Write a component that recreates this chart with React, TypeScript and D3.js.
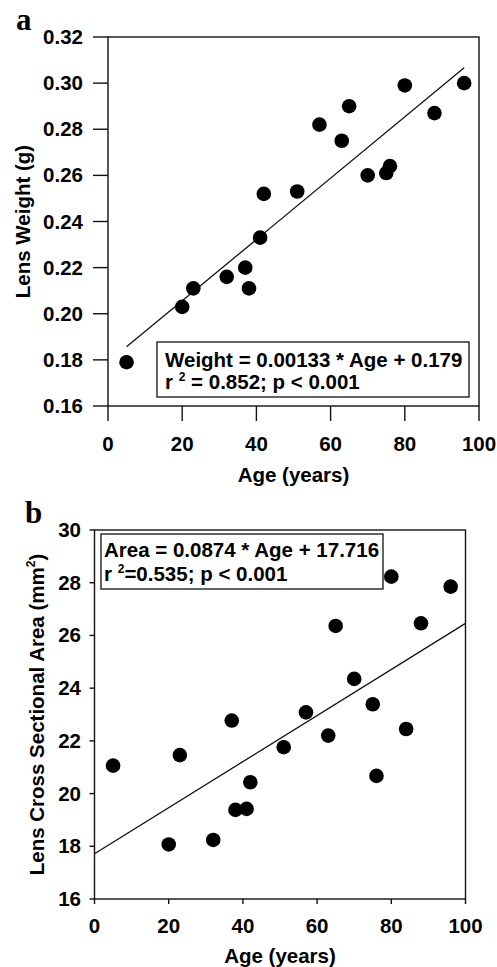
import React from "react";
import * as d3 from "d3";

// Panel a data
const ageA = [5, 20, 23, 32, 37, 38, 41, 42, 51, 57, 63, 65, 70, 75, 76, 80, 88, 96];
const weight = [0.179, 0.203, 0.211, 0.216, 0.22, 0.211, 0.233, 0.252, 0.253, 0.282, 0.275, 0.29, 0.26, 0.261, 0.264, 0.299, 0.287, 0.3];
const slopeA = 0.00133;
const interceptA = 0.179;
const yTicksA = [0.16, 0.18, 0.2, 0.22, 0.24, 0.26, 0.28, 0.3, 0.32];

// Panel b data
const ageB = [5, 20, 23, 32, 37, 38, 41, 42, 51, 57, 63, 65, 70, 75, 76, 80, 84, 88, 96];
const area = [21.06, 18.07, 21.46, 18.24, 22.77, 19.38, 19.42, 20.43, 21.76, 23.08, 22.2, 26.36, 24.35, 23.39, 20.67, 28.23, 22.45, 26.46, 27.85];
const slopeB = 0.0874;
const interceptB = 17.716;
const yTicksB = [16, 18, 20, 22, 24, 26, 28, 30];

const xTicks = [0, 20, 40, 60, 80, 100];

const SANS = "'Liberation Sans', Arial, Helvetica, sans-serif";
const SERIF = "'Liberation Serif', 'Times New Roman', serif";
const FS = 20.5;

type PanelProps = {
  ages: number[];
  vals: number[];
  slope: number;
  intercept: number;
  yDomain: [number, number];
  yTicks: number[];
  yFmt: (v: number) => string;
  left: number;
  right: number;
  top: number;
  bottom: number;
  tickLen: number;
  yLabelRight: number;
  xLabelBase: number;
  titleBase: number;
  yTitleX: number;
  lineFrom: number;
  lineTo: number;
  yTitle: React.ReactNode;
  box: { x: number; y: number; w: number; h: number; tx: number; b1: number; b2: number };
  line1: string;
  line2a: string;
  line2b: string;
  letter: string;
  letterX: number;
  letterY: number;
};

function Panel(p: PanelProps) {
  const x = d3.scaleLinear().domain([0, 100]).range([p.left, p.right]);
  const y = d3.scaleLinear().domain(p.yDomain).range([p.bottom, p.top]);
  const lineGen = d3
    .line<number>()
    .x((a) => x(a))
    .y((a) => y(p.slope * a + p.intercept));
  const pts = p.ages.map((a, i) => ({ a, v: p.vals[i] }));
  return (
    <g>
      <text x={p.letterX} y={p.letterY} fontFamily={SERIF} fontWeight="bold" fontSize={31}>
        {p.letter}
      </text>
      <rect
        x={p.left}
        y={p.top}
        width={p.right - p.left}
        height={p.bottom - p.top}
        fill="none"
        stroke="#111"
        strokeWidth={1.4}
      />
      {p.yTicks.map((t) => (
        <g key={"y" + t}>
          <line x1={p.left - p.tickLen} x2={p.left} y1={y(t)} y2={y(t)} stroke="#111" strokeWidth={1.4} />
          <text
            x={p.yLabelRight}
            y={y(t) + 7}
            textAnchor="end"
            fontFamily={SANS}
            fontWeight="bold"
            fontSize={FS}
          >
            {p.yFmt(t)}
          </text>
        </g>
      ))}
      {xTicks.map((t) => (
        <g key={"x" + t}>
          <line x1={x(t)} x2={x(t)} y1={p.bottom} y2={p.bottom + p.tickLen} stroke="#111" strokeWidth={1.4} />
          <text x={x(t)} y={p.xLabelBase} textAnchor="middle" fontFamily={SANS} fontWeight="bold" fontSize={FS}>
            {t}
          </text>
        </g>
      ))}
      <text
        x={(p.left + p.right) / 2}
        y={p.titleBase}
        textAnchor="middle"
        fontFamily={SANS}
        fontWeight="bold"
        fontSize={FS}
      >
        Age (years)
      </text>
      <text
        transform={`translate(${p.yTitleX},${(p.top + p.bottom) / 2}) rotate(-90)`}
        textAnchor="middle"
        fontFamily={SANS}
        fontWeight="bold"
        fontSize={FS}
      >
        {p.yTitle}
      </text>
      <path d={lineGen([p.lineFrom, p.lineTo]) || ""} fill="none" stroke="#111" strokeWidth={1.3} />
      {pts.map((d, i) => (
        <circle key={i} cx={x(d.a)} cy={y(d.v)} r={7.3} fill="#000" />
      ))}
      <rect
        x={p.box.x}
        y={p.box.y}
        width={p.box.w}
        height={p.box.h}
        fill="#fff"
        stroke="#111"
        strokeWidth={1.3}
      />
      <text x={p.box.tx} y={p.box.b1} fontFamily={SANS} fontWeight="bold" fontSize={FS}>
        {p.line1}
      </text>
      <text x={p.box.tx} y={p.box.b2} fontFamily={SANS} fontWeight="bold" fontSize={FS}>
        {p.line2a}
        <tspan fontSize={12} dy={-8}>
          2
        </tspan>
        <tspan dy={8}>{p.line2b}</tspan>
      </text>
    </g>
  );
}

export default function App() {
  return (
    <svg
      width={497}
      height={967}
      style={{ position: "absolute", left: 0, top: 0, background: "#fff" }}
    >
      <rect x={0} y={0} width={497} height={967} fill="#fff" />
      <Panel
        ages={ageA}
        vals={weight}
        slope={slopeA}
        intercept={interceptA}
        yDomain={[0.16, 0.32]}
        yTicks={yTicksA}
        yFmt={(v) => d3.format(".2f")(v)}
        left={108}
        right={479}
        top={37}
        bottom={406}
        tickLen={15}
        yLabelRight={83}
        xLabelBase={451}
        titleBase={482}
        yTitleX={30}
        lineFrom={d3.min(ageA) as number}
        lineTo={d3.max(ageA) as number}
        yTitle="Lens Weight (g)"
        box={{ x: 157, y: 342, w: 312, h: 55, tx: 165, b1: 367, b2: 389 }}
        line1="Weight = 0.00133 * Age + 0.179"
        line2a="r "
        line2b=" = 0.852; p < 0.001"
        letter="a"
        letterX={16}
        letterY={30}
      />
      <Panel
        ages={ageB}
        vals={area}
        slope={slopeB}
        intercept={interceptB}
        yDomain={[16, 30]}
        yTicks={yTicksB}
        yFmt={(v) => String(v)}
        left={94.5}
        right={465.5}
        top={530}
        bottom={899}
        tickLen={5}
        yLabelRight={81}
        xLabelBase={933}
        titleBase={963}
        yTitleX={44}
        lineFrom={0}
        lineTo={100}
        yTitle={
          <>
            Lens Cross Sectional Area (mm
            <tspan fontSize={12} dy={-9}>
              2
            </tspan>
            <tspan dy={9}>)</tspan>
          </>
        }
        box={{ x: 101, y: 534, w: 282, h: 55, tx: 104, b1: 557, b2: 581 }}
        line1="Area = 0.0874 * Age + 17.716"
        line2a="r "
        line2b="=0.535; p < 0.001"
        letter="b"
        letterX={25}
        letterY={523}
      />
    </svg>
  );
}
